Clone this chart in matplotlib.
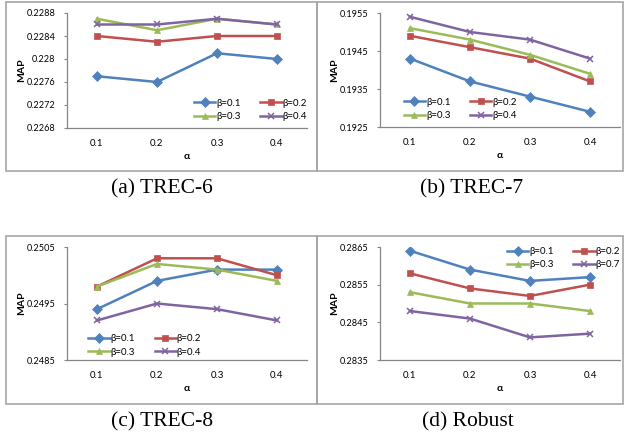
import matplotlib
matplotlib.use('Agg')
import matplotlib.pyplot as plt
from matplotlib.patches import Rectangle

W, H = 624, 440

alphas = ['0.1', '0.2', '0.3', '0.4']
colors = ['#4F81BD', '#C0504D', '#9BBB59', '#8064A2']
markers = ['D', 's', '^', 'x']

# TREC-6
trec6_labels = ['β=0.1', 'β=0.2', 'β=0.3', 'β=0.4']
trec6 = [
    [0.2277, 0.2276, 0.2281, 0.2280],
    [0.2284, 0.2283, 0.2284, 0.2284],
    [0.2287, 0.2285, 0.2287, 0.2286],
    [0.2286, 0.2286, 0.2287, 0.2286],
]
trec6_ticks = [0.2268, 0.2272, 0.2276, 0.2280, 0.2284, 0.2288]
trec6_ticklabels = ['0.2268', '0.2272', '0.2276', '0.228', '0.2284', '0.2288']

# TREC-7
trec7_labels = ['β=0.1', 'β=0.2', 'β=0.3', 'β=0.4']
trec7 = [
    [0.1943, 0.1937, 0.1933, 0.1929],
    [0.1949, 0.1946, 0.1943, 0.1937],
    [0.1951, 0.1948, 0.1944, 0.1939],
    [0.1954, 0.1950, 0.1948, 0.1943],
]
trec7_ticks = [0.1925, 0.1935, 0.1945, 0.1955]
trec7_ticklabels = ['0.1925', '0.1935', '0.1945', '0.1955']

# TREC-8
trec8_labels = ['β=0.1', 'β=0.2', 'β=0.3', 'β=0.4']
trec8 = [
    [0.2494, 0.2499, 0.2501, 0.2501],
    [0.2498, 0.2503, 0.2503, 0.2500],
    [0.2498, 0.2502, 0.2501, 0.2499],
    [0.2492, 0.2495, 0.2494, 0.2492],
]
trec8_ticks = [0.2485, 0.2495, 0.2505]
trec8_ticklabels = ['0.2485', '0.2495', '0.2505']

# Robust
robust_labels = ['β=0.1', 'β=0.2', 'β=0.3', 'β=0.7']
robust = [
    [0.2864, 0.2859, 0.2856, 0.2857],
    [0.2858, 0.2854, 0.2852, 0.2855],
    [0.2853, 0.2850, 0.2850, 0.2848],
    [0.2848, 0.2846, 0.2841, 0.2842],
]
robust_ticks = [0.2835, 0.2845, 0.2855, 0.2865]
robust_ticklabels = ['0.2835', '0.2845', '0.2855', '0.2865']

plt.rcParams['font.family'] = ['Lato', 'DejaVu Sans']

fig = plt.figure(figsize=(W / 100, H / 100), dpi=100)


def px_rect(x0, y0, x1, y1):
    return [x0 / W, 1 - y1 / H, (x1 - x0) / W, (y1 - y0) / H]


# panel frames
for (x0, y0, x1, y1) in [(6, 2, 317, 171), (317, 2, 623, 171),
                         (6, 236, 317, 404), (317, 236, 623, 404)]:
    r = Rectangle((x0 / W, 1 - y1 / H), (x1 - x0) / W, (y1 - y0) / H,
                  transform=fig.transFigure, fill=False,
                  edgecolor='#A6A6A6', linewidth=1.2)
    fig.patches.append(r)


def panel(rect, data, labels, ticks, ticklabels, leg_loc, leg_anchor):
    ax = fig.add_axes(px_rect(*rect))
    xs = range(len(alphas))
    lines = []
    for i, s in enumerate(data):
        ln, = ax.plot(xs, s, color=colors[i], marker=markers[i], markersize=4.6,
                      markeredgewidth=1.1 if markers[i] == 'x' else 0.5,
                      linewidth=1.8, label=labels[i])
        lines.append(ln)
    ax.set_xlim(-0.5, 3.5)
    ax.set_ylim(ticks[0], ticks[-1])
    ax.set_xticks(list(xs))
    ax.set_xticklabels(alphas)
    ax.set_yticks(ticks)
    ax.set_yticklabels(ticklabels)
    ax.tick_params(axis='x', length=0, labelsize=7, pad=8)
    ax.tick_params(axis='y', length=2.5, width=0.8, color='#868686',
                   labelsize=6.6, pad=6)
    for sp in ['top', 'right']:
        ax.spines[sp].set_visible(False)
    for sp in ['left', 'bottom']:
        ax.spines[sp].set_color('#868686')
        ax.spines[sp].set_linewidth(0.9)
    ax.set_xlabel('α', fontsize=7.5, fontweight='bold', labelpad=3)
    ax.set_ylabel('MAP', fontsize=7.5, fontweight='bold', va='center')
    ax.yaxis.set_label_coords(-0.19, 0.5)
    # Excel fills the legend row by row
    order = [0, 2, 1, 3]
    ax.legend([lines[k] for k in order], [labels[k] for k in order],
              loc=leg_loc, bbox_to_anchor=leg_anchor, ncol=2, frameon=False,
              fontsize=7, handlelength=2.2, columnspacing=2.0,
              handletextpad=0.1, labelspacing=0.45, borderpad=0.2)
    return ax


panel((67, 13, 307, 128), trec6, trec6_labels, trec6_ticks, trec6_ticklabels,
      'lower left', (0.5, 0.0))
panel((380, 13, 620, 127), trec7, trec7_labels, trec7_ticks, trec7_ticklabels,
      'lower left', (0.07, 0.0))
panel((67, 247, 307, 360), trec8, trec8_labels, trec8_ticks, trec8_ticklabels,
      'lower left', (0.06, -0.03))
panel((380, 247, 620, 360), robust, robust_labels, robust_ticks,
      robust_ticklabels, 'upper left', (0.5, 1.06))

captions = [('(a) TREC-6', 162, 189), ('(b) TREC-7', 472, 189),
            ('(c) TREC-8', 162, 422), ('(d) Robust', 468, 422)]
for txt, x, y in captions:
    fig.text(x / W, 1 - y / H, txt, ha='center', va='center',
             fontsize=15.5, family=['Liberation Serif', 'DejaVu Serif'])

fig.savefig('out.png', dpi=100)
